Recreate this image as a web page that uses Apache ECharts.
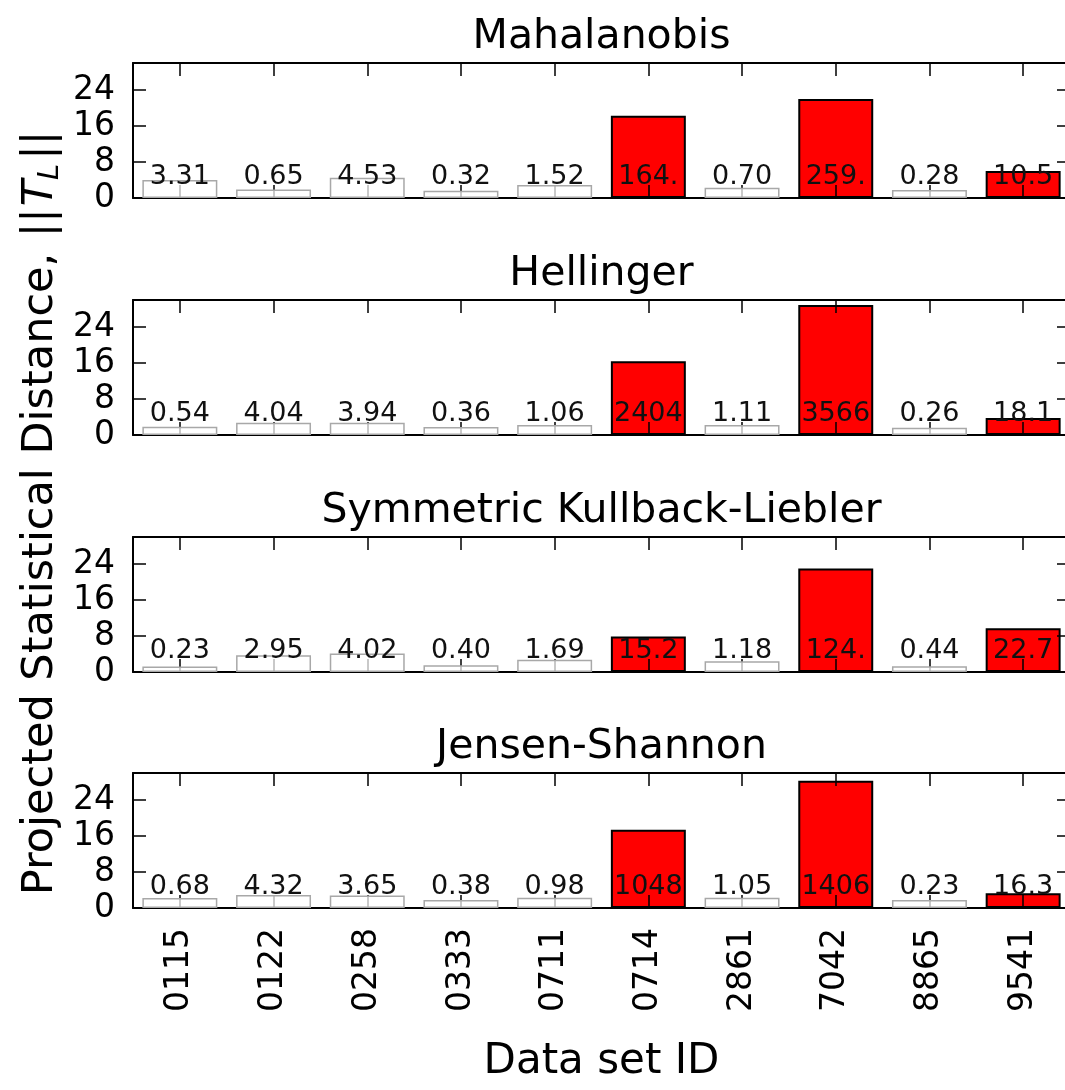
<!DOCTYPE html>
<html>
<head>
<meta charset="utf-8">
<script src="https://cdn.jsdelivr.net/npm/echarts@6/dist/echarts.min.js"></script>
<style>
  html, body { margin: 0; padding: 0; background: #ffffff; overflow: hidden; }
  #chart { width: 1065px; height: 1090px; }
</style>
</head>
<body>
<div id="chart"></div>
<script>
// Data set identifiers along the x axis
const datasetIds = ['0115', '0122', '0258', '0333', '0711', '0714', '2861', '7042', '8865', '9541'];
// Data sets flagged as anomalous (drawn in red)
const flagged = [false, false, false, false, false, true, false, true, false, true];
// Y tick values shared by every panel
const yTicks = [0, 8, 16, 24];
const panelTitles = ['Mahalanobis', 'Hellinger', 'Symmetric Kullback-Liebler', 'Jensen-Shannon'];

// Projected norm ||T_L|| for each data set (bar heights)
const mahalanobisNorm = [4.0, 1.9, 4.5, 1.6, 2.9, 18.3, 2.3, 22.0, 1.8, 6.0];
const hellingerNorm   = [1.85, 2.7, 2.7, 1.8, 2.2, 16.4, 2.2, 28.9, 1.6, 3.8];
const klNorm          = [1.25, 3.7, 4.1, 1.5, 2.7, 7.9, 2.4, 23.0, 1.3, 9.7];
const jsNorm          = [2.2, 2.9, 2.8, 1.8, 2.3, 17.4, 2.3, 28.3, 1.8, 3.3];

// Raw statistical distance printed on each bar (first four characters)
const mahalanobisText = ['3.31', '0.65', '4.53', '0.32', '1.52', '164.', '0.70', '259.', '0.28', '10.5'];
const hellingerText   = ['0.54', '4.04', '3.94', '0.36', '1.06', '2404', '1.11', '3566', '0.26', '18.1'];
const klText          = ['0.23', '2.95', '4.02', '0.40', '1.69', '15.2', '1.18', '124.', '0.44', '22.7'];
const jsText          = ['0.68', '4.32', '3.65', '0.38', '0.98', '1048', '1.05', '1406', '0.23', '16.3'];

const panelNorms = [mahalanobisNorm, hellingerNorm, klNorm, jsNorm];
const panelTexts = [mahalanobisText, hellingerText, klText, jsText];

const FONT = 'DejaVu Sans';
const GRID_LEFT = 133;
const GRID_WIDTH = 937;
const GRID_HEIGHT = 135;
const GRID_TOPS = [63, 300, 537, 773];
const TICK_LEN = 13;

const chart = echarts.init(document.getElementById('chart'), null, { renderer: 'canvas' });

const grids = [], xAxes = [], yAxes = [], series = [], graphics = [];

const spine = { show: true, onZero: false, lineStyle: { color: '#000', width: 2 } };
const innerTick = { show: true, inside: true, length: TICK_LEN, lineStyle: { color: '#000', width: 1.5 } };

GRID_TOPS.forEach((top, i) => {
  // the frame runs slightly past the right edge of the canvas
  grids.push({
    left: GRID_LEFT, top: top, width: GRID_WIDTH, height: GRID_HEIGHT,
    containLabel: false, outerBoundsMode: 'none'
  });
  const isLast = i === GRID_TOPS.length - 1;

  // bottom x axis (with the data set labels on the last panel)
  xAxes.push({
    type: 'category', gridIndex: i, position: 'bottom', data: datasetIds, z: 2,
    axisLine: spine,
    axisTick: Object.assign({ alignWithLabel: true }, innerTick),
    axisLabel: {
      show: isLast, rotate: 90, margin: 20, fontSize: 33, color: '#000', fontFamily: FONT
    },
    splitLine: { show: false }
  });
  // top x axis: frame and ticks only
  xAxes.push({
    type: 'category', gridIndex: i, position: 'top', data: datasetIds, z: 2,
    axisLine: spine,
    axisTick: Object.assign({ alignWithLabel: true }, innerTick),
    axisLabel: { show: false },
    splitLine: { show: false }
  });
  // left y axis
  yAxes.push({
    type: 'value', gridIndex: i, position: 'left', min: 0, max: 30, z: 2,
    axisLine: spine,
    axisTick: Object.assign({ customValues: yTicks }, innerTick),
    axisLabel: {
      customValues: yTicks, margin: 18, fontSize: 33, color: '#000', fontFamily: FONT
    },
    splitLine: { show: false }
  });
  // right y axis: frame and ticks only
  yAxes.push({
    type: 'value', gridIndex: i, position: 'right', min: 0, max: 30, z: 2,
    axisLine: spine,
    axisTick: Object.assign({ customValues: yTicks }, innerTick),
    axisLabel: { show: false },
    splitLine: { show: false }
  });

  const norms = panelNorms[i];
  const texts = panelTexts[i];
  const barLabel = {
    show: true, position: 'insideBottom', distance: 8,
    fontSize: 27, color: '#111', fontFamily: FONT,
    formatter: p => texts[p.dataIndex]
  };

  // flagged data sets: solid red bars under the axis ticks
  series.push({
    type: 'bar', xAxisIndex: 2 * i, yAxisIndex: 2 * i, z: 1,
    barWidth: '80%', barGap: '-100%',
    data: norms.map((v, k) => flagged[k] ? v : '-'),
    itemStyle: { color: '#ff0000', borderColor: '#000', borderWidth: 2 },
    label: barLabel
  });
  // remaining data sets: pale bars drawn over the ticks
  series.push({
    type: 'bar', xAxisIndex: 2 * i, yAxisIndex: 2 * i, z: 3,
    barWidth: '80%', barGap: '-100%',
    data: norms.map((v, k) => flagged[k] ? '-' : v),
    itemStyle: { color: 'rgba(255,255,255,0.72)', borderColor: '#a8a8a8', borderWidth: 1.5 },
    label: barLabel
  });

  graphics.push({
    type: 'text', x: GRID_LEFT + GRID_WIDTH / 2, y: top - 26,
    style: {
      text: panelTitles[i], fontSize: 41, fontFamily: FONT, fill: '#000',
      textAlign: 'center', textVerticalAlign: 'middle'
    }
  });
});

// x axis title
graphics.push({
  type: 'text', x: GRID_LEFT + GRID_WIDTH / 2, y: 1062,
  style: {
    text: 'Data set ID', fontSize: 42, fontFamily: FONT, fill: '#000',
    textAlign: 'center', textVerticalAlign: 'middle'
  }
});

// shared y axis title with the norm symbol
graphics.push({
  type: 'text', x: 41, y: 512, rotation: Math.PI / 2,
  style: {
    text: 'Projected Statistical Distance, {bar|||}{it|T}{sub|L}{bar|||}',
    fontSize: 43, fontFamily: FONT, fill: '#000',
    textAlign: 'center', textVerticalAlign: 'middle',
    rich: {
      bar: { fontSize: 43, fontFamily: FONT, fill: '#000', padding: [0, 2, 0, 2] },
      it: { fontSize: 43, fontFamily: FONT, fontStyle: 'italic', fill: '#000' },
      sub: { fontSize: 29, fontFamily: FONT, fontStyle: 'italic', fill: '#000', verticalAlign: 'bottom', padding: [18, 2, 0, 0] }
    }
  }
});

chart.setOption({
  animation: false,
  backgroundColor: '#ffffff',
  grid: grids,
  xAxis: xAxes,
  yAxis: yAxes,
  series: series,
  graphic: graphics
});
</script>
</body>
</html>
